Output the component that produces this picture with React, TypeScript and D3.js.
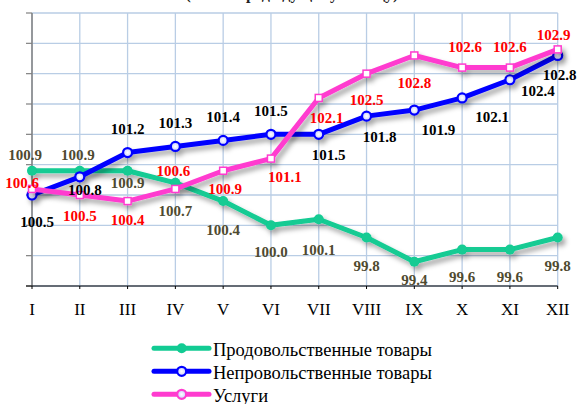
import React from "react";
import * as d3 from "d3";

const months = ["I", "II", "III", "IV", "V", "VI", "VII", "VIII", "IX", "X", "XI", "XII"];
const foodValues = [100.9, 100.9, 100.9, 100.7, 100.4, 100.0, 100.1, 99.8, 99.4, 99.6, 99.6, 99.8];
const nonFoodValues = [100.5, 100.8, 101.2, 101.3, 101.4, 101.5, 101.5, 101.8, 101.9, 102.1, 102.4, 102.8];
const serviceValues = [100.6, 100.5, 100.4, 100.6, 100.9, 101.1, 102.1, 102.5, 102.8, 102.6, 102.6, 102.9];
const seriesNames = ["Продовольственные товары", "Непровольственные товары", "Услуги"];
const title = "(в % к предыдущему месяцу)";

// label placement offsets (label centre relative to the point), per series
const foodOffsets = [[-7, -16], [-2, -16], [0, 12], [0, 28], [0, 29], [0, 27], [0, 31], [0, 29], [0, 18], [0, 27], [0, 27], [0, 29]];
const nonFoodOffsets = [[5, 27], [5, 13], [0, -24], [0, -23], [0, -23], [0, -23], [10, 21], [13, 21], [24, 20], [30, 19], [28, 11], [2, 20]];
const serviceOffsets = [[-10, -6], [0, 21], [0, 19], [-2, -18], [2, 18], [14, 18], [8, 20], [0, 26], [0, 28], [3, -21], [0, -21], [-4, -14]];

const W = 580;
const H = 404;
const left = 32;
const right = 557.7;
const top = 13;
const bottom = 286;

const x = d3.scalePoint<string>().domain(months).range([left, right]);
const y = d3.scaleLinear().domain([99, 103.5]).range([bottom, top]);
const gridValues = d3.range(99, 103.51, 0.5);

const serif = "Liberation Serif, Times New Roman, serif";

const series = [
  { name: seriesNames[0], values: foodValues, offsets: foodOffsets, color: "#12CB93", label: "#4f4a30", marker: "dot" },
  { name: seriesNames[1], values: nonFoodValues, offsets: nonFoodOffsets, color: "#0000FF", label: "#000000", marker: "ring" },
  { name: seriesNames[2], values: serviceValues, offsets: serviceOffsets, color: "#FF3BCF", label: "#FF0000", marker: "square" },
];

const line = d3
  .line<number>()
  .x((_, i) => x(months[i]) as number)
  .y((d) => y(d));

function Marker({ kind, cx, cy, color }: { kind: string; cx: number; cy: number; color: string }) {
  if (kind === "dot") return <circle cx={cx} cy={cy} r={5} fill={color} />;
  if (kind === "ring")
    return <circle cx={cx} cy={cy} r={4.5} fill="url(#ringGrad)" stroke={color} strokeWidth={2.2} />;
  return <rect x={cx - 3.5} y={cy - 3.5} width={7} height={7} fill="#fff" stroke={color} strokeWidth={1.5} />;
}

export default function App() {
  return (
    <svg
      width={W}
      height={H}
      style={{ position: "absolute", left: 0, top: 0, background: "#fff", fontFamily: serif }}
    >
      <defs>
        <filter id="shadow" x="-10%" y="-10%" width="130%" height="140%">
          <feDropShadow dx="3" dy="4" stdDeviation="2.5" floodColor="#000" floodOpacity="0.35" />
        </filter>
        <radialGradient id="ringGrad">
          <stop offset="0%" stopColor="#ffffff" />
          <stop offset="100%" stopColor="#c8ccff" />
        </radialGradient>
      </defs>

      <text x={292} y={-1} textAnchor="middle" fontSize={16} fontWeight="bold" fill="#222">
        {title}
      </text>

      {/* grid */}
      {gridValues.map((v) => (
        <line key={"h" + v} x1={left} x2={right} y1={y(v)} y2={y(v)} stroke="#B9CDE5" strokeWidth={1.3} />
      ))}
      {months.map((m) => (
        <line key={"v" + m} x1={x(m)} x2={x(m)} y1={top} y2={bottom} stroke="#B9CDE5" strokeWidth={1.3} />
      ))}

      {/* axes */}
      <line x1={left} x2={left} y1={top} y2={bottom} stroke="#808080" strokeWidth={1.5} />
      {gridValues.map((v) => (
        <line key={"t" + v} x1={left - 6} x2={left} y1={y(v)} y2={y(v)} stroke="#808080" strokeWidth={1.2} />
      ))}
      <line x1={left - 6} x2={right} y1={bottom} y2={bottom} stroke="#000" strokeWidth={1.2} />
      {months.map((m) => (
        <g key={"xl" + m}>
          <line x1={x(m)} x2={x(m)} y1={bottom} y2={bottom + 3} stroke="#000" strokeWidth={1} />
          <text x={x(m)} y={315} textAnchor="middle" fontSize={17} fill="#000">
            {m}
          </text>
        </g>
      ))}

      {/* series lines */}
      {series.map((s) => (
        <g key={s.name} filter="url(#shadow)">
          <path d={line(s.values) ?? ""} fill="none" stroke={s.color} strokeWidth={5} strokeLinejoin="round" />
          {s.values.map((v, i) => (
            <Marker key={i} kind={s.marker} cx={x(months[i]) as number} cy={y(v)} color={s.color} />
          ))}
        </g>
      ))}

      {/* data labels */}
      {series.map((s) =>
        s.values.map((v, i) => (
          <text
            key={s.name + "l" + i}
            x={(x(months[i]) as number) + s.offsets[i][0]}
            y={y(v) + s.offsets[i][1] + 5}
            textAnchor="middle"
            fontSize={15}
            fontWeight="bold"
            fill={s.label}
          >
            {v.toFixed(1)}
          </text>
        ))
      )}

      {/* legend */}
      {series.map((s, i) => {
        const ly = 348.3 + i * 23;
        return (
          <g key={"lg" + s.name}>
            <line x1={154} x2={209} y1={ly} y2={ly} stroke={s.color} strokeWidth={5} strokeLinecap="round" />
            <Marker kind={s.marker === "square" ? "ring" : s.marker} cx={181.7} cy={ly} color={s.color} />
            <text x={213} y={ly + 7.5} fontSize={18.5} fill="#000">
              {s.name}
            </text>
          </g>
        );
      })}
    </svg>
  );
}
